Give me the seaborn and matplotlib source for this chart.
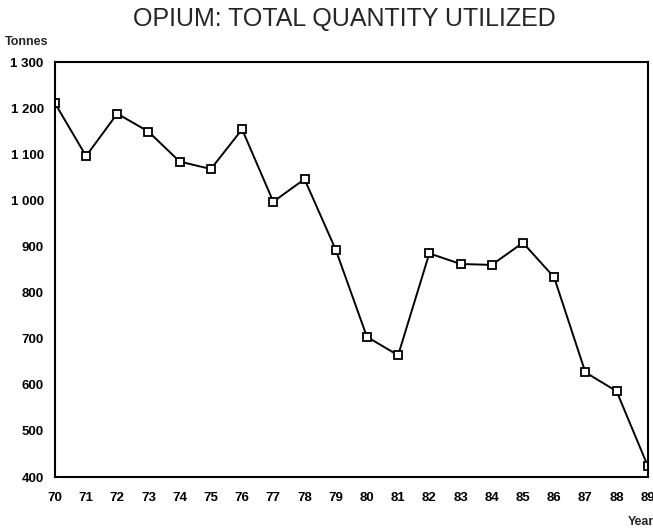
import matplotlib
matplotlib.use("Agg")
import matplotlib.pyplot as plt
import numpy as np
import pandas as pd
import seaborn as sns
from matplotlib.ticker import FuncFormatter

years = [70, 71, 72, 73, 74, 75, 76, 77, 78, 79,
         80, 81, 82, 83, 84, 85, 86, 87, 88, 89]
tonnes = [1211, 1096, 1188, 1149, 1084, 1068, 1154, 997, 1046, 893,
          704, 664, 885, 862, 860, 908, 833, 627, 586, 424]
y_ticks = [400, 500, 600, 700, 800, 900, 1000, 1100, 1200, 1300]

df = pd.DataFrame({"year": years, "tonnes": tonnes})

sns.set_style("white")
plt.rcParams["font.family"] = ["Liberation Sans", "DejaVu Sans"]

fig = plt.figure(figsize=(6.53, 5.30), dpi=100)
ax = fig.add_axes([0.084, 0.1, 0.908, 0.783])

sns.lineplot(data=df, x="year", y="tonnes", ax=ax, color="black", linewidth=1.4,
             marker="s", markersize=6, markerfacecolor="white",
             markeredgecolor="black", markeredgewidth=1.3)

ax.set_xlim(70, 89)
ax.set_ylim(400, 1300)
ax.set_xticks(years)
ax.set_yticks(y_ticks)
ax.yaxis.set_major_formatter(FuncFormatter(lambda v, p: f"{int(v):,}".replace(",", " ")))
ax.set_xlabel("")
ax.set_ylabel("")

for s in ax.spines.values():
    s.set_visible(True)
    s.set_color("black")
    s.set_linewidth(1.5)

ax.tick_params(axis="both", direction="out", length=5, width=1.3, colors="black",
               labelsize=9.5)
for lab in ax.get_xticklabels() + ax.get_yticklabels():
    lab.set_fontweight("bold")
ax.tick_params(axis="x", pad=6)
ax.tick_params(axis="y", pad=3)

fig.text(0.527, 0.964, "OPIUM: TOTAL QUANTITY UTILIZED", ha="center", va="center",
         fontsize=18)
fig.text(0.008, 0.92, "Tonnes", ha="left", va="center", fontsize=9, fontweight="bold")
fig.text(0.961, 0.015, "Year", ha="left", va="center", fontsize=9, fontweight="bold")

fig.savefig("out.png", dpi=100)
